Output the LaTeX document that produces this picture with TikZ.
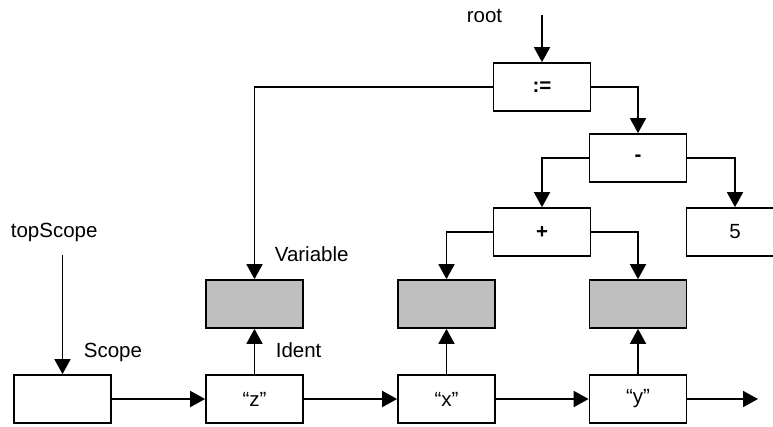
\documentclass[tikz,border=0pt]{standalone}
\usepackage{fontspec}
\setmainfont{Liberation Sans}
\usetikzlibrary{arrows.meta}

\begin{document}
\begin{tikzpicture}[x=1pt,y=-1pt,line width=1.7pt,
    font=\fontsize{20.5}{24}\selectfont,
    box/.style={draw,minimum width=97pt,minimum height=48pt,inner sep=0pt},
    shaded/.style={box,fill=gray!50},
    arr/.style={-{Triangle[length=15pt,width=16pt]}}]
  \useasboundingbox (0,0) rectangle (773,426);
  % tree
  \node[box] (assign) at (542,87) {\bfseries :=};
  \node[box] (minus) at (638,158) {\bfseries -};
  \node[box] (plus) at (542,232) {\bfseries +};
  \node[box] (five) at (735,232) {5};
  % variables
  \node[shaded] (varz) at (254.5,304) {};
  \node[shaded] (varx) at (446.5,304) {};
  \node[shaded] (vary) at (638,304) {};
  % scope list
  \node[box] (scope) at (62.5,399) {};
  \node[box] (idz) at (254.5,399) {“z”};
  \node[box] (idx) at (446.5,399) {“x”};
  \node[box] (idy) at (638,399) {“y”};
  % labels
  \node[anchor=base west,inner sep=0pt] (rootlbl) at (466,22) {root};
  \node[anchor=base west,inner sep=0pt] (toplbl) at (10,237) {topScope};
  \node[anchor=base west,inner sep=0pt] (scopelbl) at (83,357) {Scope};
  \node[anchor=base west,inner sep=0pt] (varlbl) at (274,261) {Variable};
  \node[anchor=base west,inner sep=0pt] (identlbl) at (275,357) {Ident};
  \coordinate (rootin) at (542,15);
  \coordinate (topin) at (62.5,255);
  \coordinate (tail) at (758,399);
  % connectors
  \draw[arr] (rootin) -- (assign.north);
  \draw[arr] (topin) -- (scope.north);
  \draw[arr] (assign.west) -| (varz.north);
  \draw[arr] (assign.east) -| (minus.north);
  \draw[arr] (minus.west) -| (plus.north);
  \draw[arr] (minus.east) -| (five.north);
  \draw[arr] (plus.west) -| (varx.north);
  \draw[arr] (plus.east) -| (vary.north);
  \draw[arr] (idz.north) -- (varz.south);
  \draw[arr] (idx.north) -- (varx.south);
  \draw[arr] (idy.north) -- (vary.south);
  \draw[arr] (scope.east) -- (idz.west);
  \draw[arr] (idz.east) -- (idx.west);
  \draw[arr] (idx.east) -- (idy.west);
  \draw[arr] (idy.east) -- (tail);
\end{tikzpicture}
\end{document}
